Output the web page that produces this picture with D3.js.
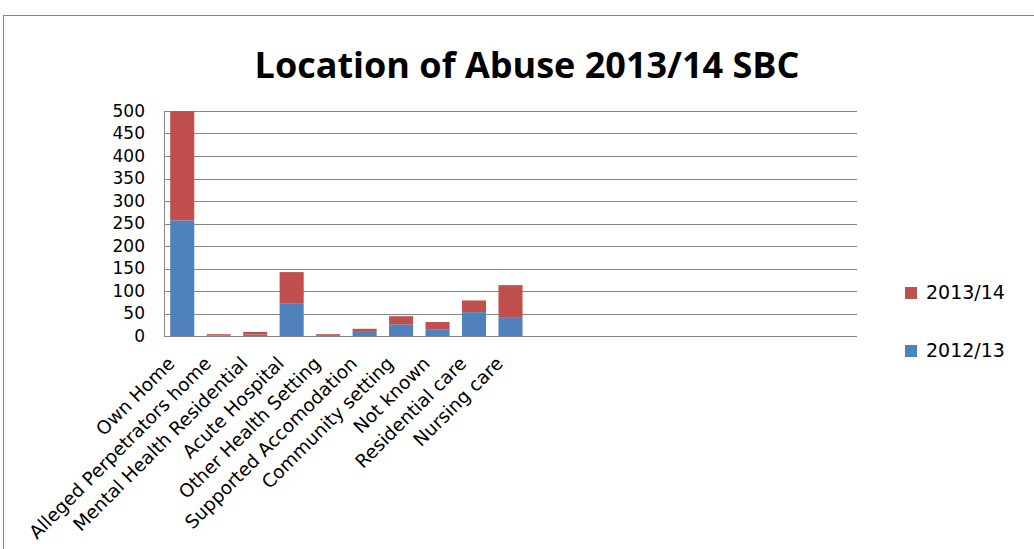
<!DOCTYPE html>
<html>
<head>
<meta charset="utf-8">
<script src="https://cdn.jsdelivr.net/npm/d3@7"></script>
<style>
  body { margin: 0; background: #fff; }
  svg { display: block; }
</style>
</head>
<body>
<div id="chart"></div>
<script>
// categories (blank slots are empty categories in the source sheet)
const categories = [
  'Own Home', 'Alleged Perpetrators home', 'Mental Health Residential',
  'Acute Hospital', 'Other Health Setting', 'Supported Accomodation',
  'Community setting', 'Not known', 'Residential care', 'Nursing care',
  '', '', '', '', '', '', '', '', ''
];
const values2012 = [257, 1, 3, 73, 2, 11, 26, 15, 53, 42];
const values2013 = [243, 3, 6, 69, 2, 5, 18, 16, 26, 71];
const seriesNames = ['2012/13', '2013/14'];
const yTicks = [0, 50, 100, 150, 200, 250, 300, 350, 400, 450, 500];
const title = 'Location of Abuse 2013/14 SBC';

const W = 1034, H = 549;
const margin = { top: 111, right: 177, bottom: 213, left: 164 };
const colors = { '2012/13': '#4F81BD', '2013/14': '#C0504D' };
const grid = '#868686';

const svg = d3.select('#chart').append('svg')
  .attr('width', W).attr('height', H);

svg.append('rect').attr('width', W).attr('height', H).attr('fill', '#fff');
// outer chart border (runs off the right and bottom)
svg.append('rect')
  .attr('x', 3.5).attr('y', 15.5)
  .attr('width', W + 20).attr('height', H + 20)
  .attr('fill', 'none').attr('stroke', grid);

svg.append('text')
  .attr('x', 527).attr('y', 78)
  .attr('text-anchor', 'middle')
  .attr('font-family', 'Open Sans')
  .attr('font-weight', 'bold')
  .attr('font-size', 36)
  .text(title);

const innerW = W - margin.left - margin.right;
const innerH = H - margin.top - margin.bottom;
const g = svg.append('g').attr('transform', 'translate(' + margin.left + ',' + margin.top + ')');

const x = d3.scaleBand()
  .domain(d3.range(categories.length))
  .range([0, innerW])
  .paddingInner(0.34)
  .paddingOuter(0.17);
const y = d3.scaleLinear().domain([0, 500]).range([innerH, 0]);

// gridlines
g.append('g').selectAll('line').data(yTicks).join('line')
  .attr('x1', 0).attr('x2', innerW)
  .attr('y1', d => Math.round(y(d)) + 0.5).attr('y2', d => Math.round(y(d)) + 0.5)
  .attr('stroke', grid);

// y axis
const yAxis = g.append('g')
  .call(d3.axisLeft(y).tickValues(yTicks).tickSize(0).tickPadding(19));
yAxis.select('.domain').attr('stroke', grid).attr('d', 'M0.5,0V' + innerH);
yAxis.selectAll('text')
  .attr('font-family', 'DejaVu Sans').attr('font-size', 17).attr('fill', '#000');

// stacked bars
const rows = values2012.map((v, i) => ({ key: i, '2012/13': v, '2013/14': values2013[i] }));
const stack = d3.stack().keys(seriesNames)(rows);
g.append('g').selectAll('g').data(stack).join('g')
  .attr('fill', d => colors[d.key])
  .selectAll('rect').data(d => d).join('rect')
  .attr('x', d => x(d.data.key))
  .attr('width', x.bandwidth())
  .attr('y', d => y(d[1]))
  .attr('height', d => y(d[0]) - y(d[1]));

// x axis baseline + rotated labels
const xAxis = g.append('g')
  .attr('transform', 'translate(0,' + innerH + ')')
  .call(d3.axisBottom(x).tickSize(0).tickFormat(i => categories[i]));
xAxis.select('.domain').attr('stroke', grid).attr('d', 'M0,0.5H' + innerW);
xAxis.selectAll('text')
  .attr('font-family', 'DejaVu Sans').attr('font-size', 18.5).attr('fill', '#000')
  .attr('text-anchor', 'end')
  .attr('transform', 'translate(-11,24) rotate(-45)')
  .attr('y', 0).attr('dy', '0.35em');

// legend
const legend = svg.append('g').selectAll('g')
  .data(['2013/14', '2012/13']).join('g')
  .attr('transform', (d, i) => 'translate(905,' + (287 + i * 58) + ')');
legend.append('rect').attr('width', 12).attr('height', 12).attr('fill', d => colors[d]);
legend.append('text')
  .attr('x', 21).attr('y', 11.5)
  .attr('font-family', 'DejaVu Sans').attr('font-size', 19)
  .text(d => d);
</script>
</body>
</html>
